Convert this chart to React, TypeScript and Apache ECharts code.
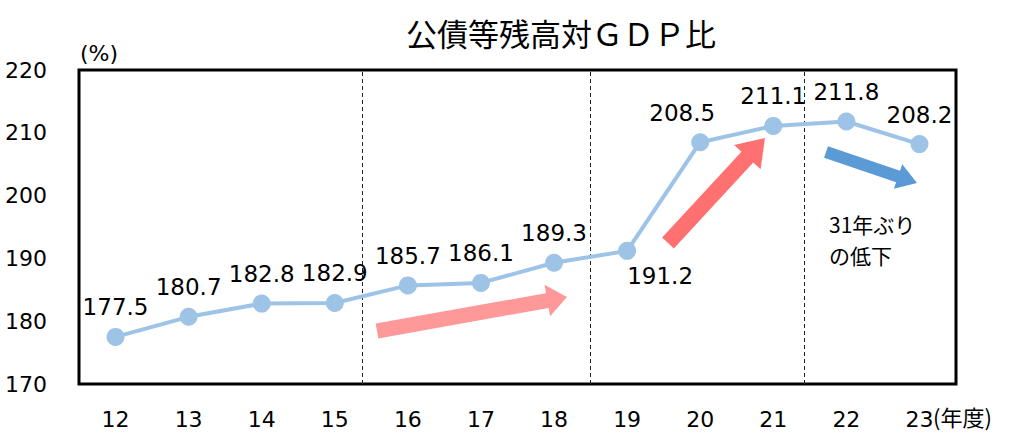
import React, { useEffect, useRef } from "react";
import * as echarts from "echarts";

const years = ["12", "13", "14", "15", "16", "17", "18", "19", "20", "21", "22", "23"];
const ratio = [177.5, 180.7, 182.8, 182.9, 185.7, 186.1, 189.3, 191.2, 208.5, 211.1, 211.8, 208.2];
const yTicks = { min: 170, max: 220, interval: 10 };
const dividers = [3.38, 6.49, 9.43];

const NUM_FONT = "DejaVu Sans";
const JP_FONT = "'Noto Sans CJK JP', 'DejaVu Sans', sans-serif";

function arrow(tail: number[], tip: number[], shaft: number, headW: number, headL: number) {
  const dx = tip[0] - tail[0];
  const dy = tip[1] - tail[1];
  const len = Math.sqrt(dx * dx + dy * dy);
  const ux = dx / len, uy = dy / len;
  const nx = -uy, ny = ux;
  const bx = tip[0] - ux * headL, by = tip[1] - uy * headL;
  const s = shaft / 2, h = headW / 2;
  return [
    [tail[0] + nx * s, tail[1] + ny * s],
    [bx + nx * s, by + ny * s],
    [bx + nx * h, by + ny * h],
    [tip[0], tip[1]],
    [bx - nx * h, by - ny * h],
    [bx - nx * s, by - ny * s],
    [tail[0] - nx * s, tail[1] - ny * s],
  ];
}

export default function App() {
  const ref = useRef<HTMLDivElement>(null);
  useEffect(() => {
    document.body.style.margin = "0";
    if (!ref.current) return;
    const chart = echarts.init(ref.current, undefined, { renderer: "svg" });
    const labelOverrides: Record<number, any> = {
      7: { position: "bottom", offset: [33, -4] },
      8: { offset: [-18, 0] },
    };
    const data = ratio.map((v, i) => ({
      value: v,
      label: labelOverrides[i] ? { ...labelOverrides[i] } : undefined,
    }));
    chart.setOption({
      animation: false,
      title: {
        text: "公債等残高対ＧＤＰ比",
        left: 556,
        top: 12,
        textAlign: "center",
        textStyle: { fontFamily: JP_FONT, fontSize: 31, fontWeight: "normal", color: "#000" },
      },
      grid: {
        left: 79,
        right: 53,
        top: 70,
        bottom: 56,
        show: true,
        borderColor: "#000",
        borderWidth: 3,
      },
      xAxis: [
        {
          type: "category",
          data: years,
          boundaryGap: true,
          axisLine: { show: false },
          axisTick: { show: false },
          axisLabel: { color: "#000", fontFamily: NUM_FONT, fontSize: 22, margin: 24 },
        },
        {
          type: "value",
          min: -0.5,
          max: 11.5,
          show: false,
        },
      ],
      yAxis: {
        type: "value",
        min: yTicks.min,
        max: yTicks.max,
        interval: yTicks.interval,
        axisLine: { show: false },
        axisTick: { show: false },
        splitLine: { show: false },
        axisLabel: { color: "#000", fontFamily: NUM_FONT, fontSize: 22, margin: 32 },
      },
      series: [
        {
          type: "line",
          xAxisIndex: 1,
          data: [],
          silent: true,
          markLine: {
            symbol: "none",
            silent: true,
            label: { show: false },
            lineStyle: { color: "#222", width: 1, type: [4, 3] },
            data: dividers.map((d) => ({ xAxis: d })),
          },
        },
        {
          type: "line",
          data,
          symbol: "circle",
          symbolSize: 18,
          lineStyle: { color: "#9DC3E6", width: 4 },
          itemStyle: { color: "#9DC3E6" },
          label: {
            show: true,
            position: "top",
            distance: 9,
            color: "#000",
            fontFamily: NUM_FONT,
            fontSize: 23,
          },
          z: 5,
        },
      ],
      graphic: [
        {
          type: "text",
          left: 80,
          top: 42,
          style: { text: "(%)", fontFamily: NUM_FONT, fontSize: 22, fill: "#000" },
        },
        {
          type: "text",
          left: 933,
          top: 405,
          style: { text: "(年度)", fontFamily: JP_FONT, fontSize: 22, fill: "#000" },
        },
        {
          type: "polygon",
          shape: { points: arrow([377, 331], [567, 297], 15, 32, 20) },
          style: { fill: "#FF9999" },
          z: 3,
        },
        {
          type: "polygon",
          shape: { points: arrow([668, 243], [765, 138], 16, 36, 26) },
          style: { fill: "#FF7070" },
          z: 3,
        },
        {
          type: "polygon",
          shape: { points: arrow([826, 152], [917, 183], 12, 26, 20) },
          style: { fill: "#5B9BD5" },
          z: 3,
        },
        {
          type: "text",
          left: 829,
          top: 213,
          style: { text: "31年ぶり", fontFamily: JP_FONT, fontSize: 21, lineHeight: 22, fill: "#000" },
        },
        {
          type: "text",
          left: 829,
          top: 244,
          style: { text: "の低下", fontFamily: JP_FONT, fontSize: 21, lineHeight: 22, fill: "#000" },
        },
      ],
    });
    return () => chart.dispose();
  }, []);
  return <div ref={ref} style={{ width: 1009, height: 440 }} />;
}
